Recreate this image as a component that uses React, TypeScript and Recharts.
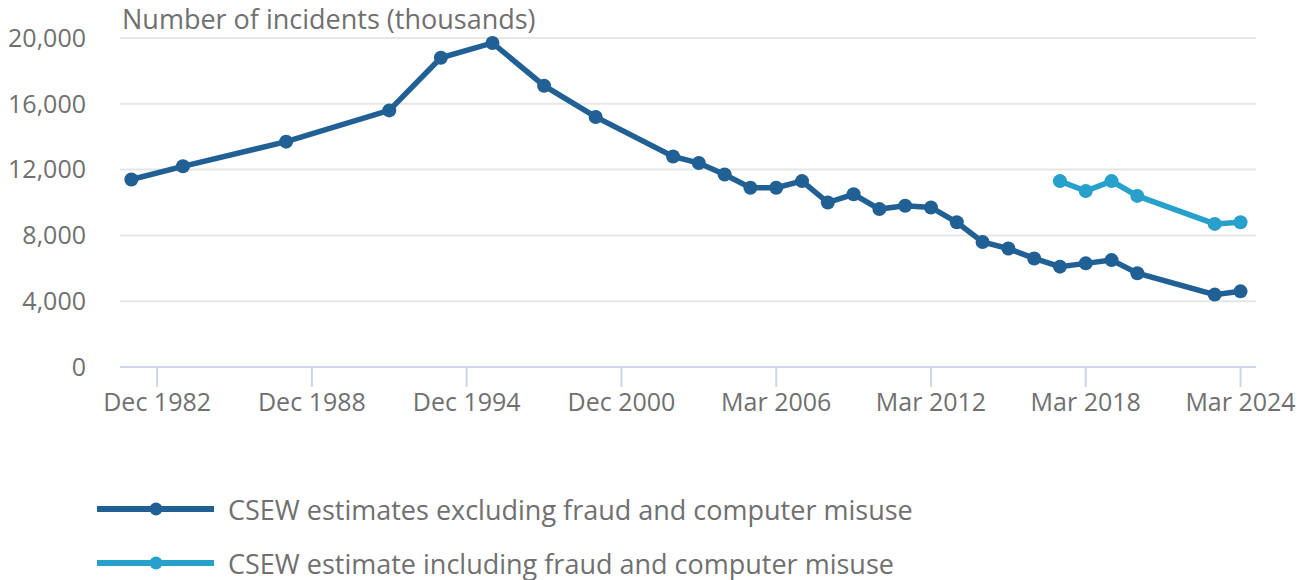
import React from 'react'
import {
  LineChart,
  Line,
  XAxis,
  YAxis,
  CartesianGrid,
  Legend,
} from 'recharts'

// survey periods, placed on a year scale
const periods = [
  '1981', '1983', '1987', '1991', '1993', '1995', '1997', '1999',
  '2001/02', '2002/03', '2003/04', '2004/05', '2005/06', '2006/07',
  '2007/08', '2008/09', '2009/10', '2010/11', '2011/12', '2012/13',
  '2013/14', '2014/15', '2015/16', '2016/17', '2017/18', '2018/19',
  '2019/20', '2022/23', '2023/24',
]
const yearPos = [
  1981, 1983, 1987, 1991, 1993, 1995, 1997, 1999,
  2002, 2003, 2004, 2005, 2006, 2007, 2008, 2009, 2010, 2011, 2012, 2013,
  2014, 2015, 2016, 2017, 2018, 2019, 2020, 2023, 2024,
]
// thousands of incidents
const excludingFraud = [
  11400, 12200, 13700, 15600, 18800, 19700, 17100, 15200,
  12800, 12400, 11700, 10900, 10900, 11300, 10000, 10500, 9600, 9800, 9700, 8800,
  7600, 7200, 6600, 6100, 6300, 6500, 5700, 4400, 4600,
]
const includingFraud: (number | null)[] = [
  null, null, null, null, null, null, null, null,
  null, null, null, null, null, null, null, null, null, null, null, null,
  null, null, null, 11300, 10700, 11300, 10400, 8700, 8800,
]

const xTicks = [1982, 1988, 1994, 2000, 2006, 2012, 2018, 2024]
const xTickLabels = [
  'Dec 1982', 'Dec 1988', 'Dec 1994', 'Dec 2000',
  'Mar 2006', 'Mar 2012', 'Mar 2018', 'Mar 2024',
]
const yTicks = [0, 4000, 8000, 12000, 16000, 20000]
const seriesOrder = ['excl', 'incl']

const data = periods.map((p, i) => ({
  period: p,
  x: yearPos[i],
  excl: excludingFraud[i],
  incl: includingFraud[i],
}))

const FONT = '"Open Sans", sans-serif'
const TEXT = '#707070'
const DARK = '#206095'
const LIGHT = '#27a0cc'

function AxisTitle({ viewBox }: any) {
  return (
    <text
      x={viewBox.x + viewBox.width + 2}
      y={29}
      fill={TEXT}
      fontSize={27}
      fontFamily={FONT}
    >
      Number of incidents (thousands)
    </text>
  )
}

function LegendBox({ payload }: any) {
  const items = [...(payload || [])].sort(
    (a: any, b: any) => seriesOrder.indexOf(a.dataKey) - seriesOrder.indexOf(b.dataKey)
  )
  return (
    <div style={{ position: 'relative', height: 130, fontFamily: FONT }}>
      {items.map((item: any, i: number) => (
        <div
          key={item.value}
          style={{
            position: 'absolute',
            left: 97,
            top: 59 + i * 54 - 18,
            height: 36,
            display: 'flex',
            alignItems: 'center',
          }}
        >
          <svg width={118} height={16} style={{ display: 'block' }}>
            <line x1={0} y1={8} x2={117} y2={8} stroke={item.color} strokeWidth={6} />
            <circle cx={59} cy={8} r={6.5} fill={item.color} />
          </svg>
          <span
            style={{
              marginLeft: 13,
              fontSize: 27,
              color: TEXT,
              whiteSpace: 'nowrap',
            }}
          >
            {item.value}
          </span>
        </div>
      ))}
    </div>
  )
}

export default function App() {
  return (
    <div style={{ position: 'absolute', left: 0, top: 0, background: '#fff' }}>
      <LineChart
        width={1309}
        height={580}
        data={data}
        margin={{ top: 38, right: 53, left: 0, bottom: 0 }}
      >
        <CartesianGrid
          vertical={false}
          stroke="#e6e6e6"
          strokeWidth={2}
        />
        <XAxis
          dataKey="x"
          type="number"
          domain={[1980.56, 2024.6]}
          ticks={xTicks}
          tickFormatter={(v: number) => xTickLabels[xTicks.indexOf(v)]}
          height={83}
          tickSize={20}
          tickMargin={6}
          axisLine={{ stroke: '#cdd7e9', strokeWidth: 2 }}
          tickLine={{ stroke: '#cdd7e9', strokeWidth: 2 }}
          tick={{ fontSize: 25, fill: TEXT, fontFamily: FONT }}
          interval={0}
        />
        <YAxis
          width={120}
          domain={[0, 20000]}
          ticks={yTicks}
          tickFormatter={(v: number) => v.toLocaleString('en-GB')}
          axisLine={false}
          tickLine={false}
          tickSize={0}
          tickMargin={34}
          tick={{ fontSize: 25, fill: TEXT, fontFamily: FONT }}
          label={<AxisTitle />}
        />
        <Legend verticalAlign="bottom" content={<LegendBox />} />
        <Line
          name="CSEW estimates excluding fraud and computer misuse"
          dataKey="excl"
          stroke={DARK}
          strokeWidth={5.5}
          dot={{ r: 7, fill: DARK, stroke: 'none' }}
          activeDot={false}
          isAnimationActive={false}
        />
        <Line
          name="CSEW estimate including fraud and computer misuse"
          dataKey="incl"
          stroke={LIGHT}
          strokeWidth={5.5}
          dot={{ r: 7, fill: LIGHT, stroke: 'none' }}
          activeDot={false}
          isAnimationActive={false}
        />
      </LineChart>
    </div>
  )
}
